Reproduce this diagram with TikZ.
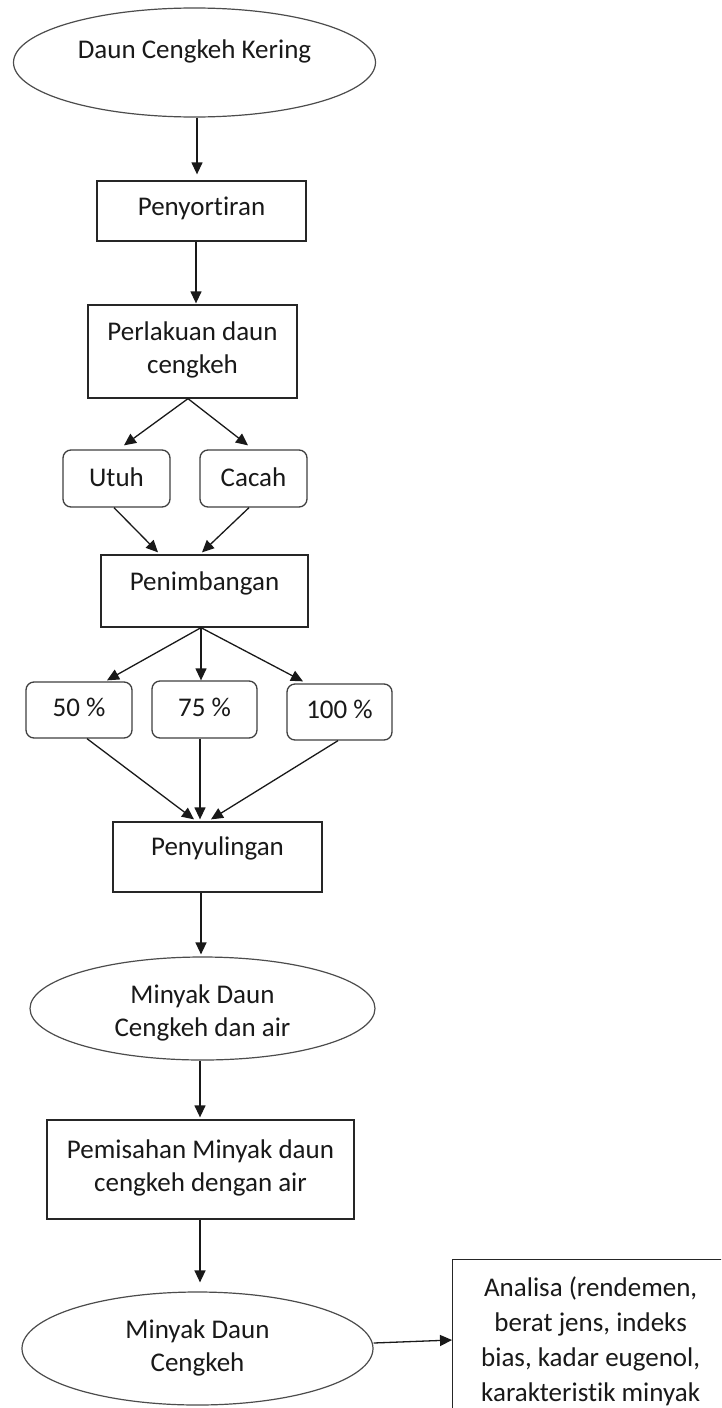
\documentclass[tikz,border=0pt]{standalone}
\usepackage{fontspec}
\setmainfont{Carlito}[RawFeature={-liga;-clig;-calt;-dlig}]
\usetikzlibrary{shapes.geometric,arrows.meta}
\newcommand\tx[2]{\raisebox{#1}[0pt][0pt]{\begin{tabular}{@{}c@{}}#2\end{tabular}}}
\tikzset{
  base/.style={font=\fontsize{27}{33}\selectfont, inner sep=0pt, text=black!90},
  procbox/.style={base, rectangle, draw=black!85, line width=1.3pt, fill=white},
  optbox/.style={base, rectangle, rounded corners=8pt, draw=black!75, line width=1.3pt, fill=white},
  oval/.style={base, ellipse, draw=black!70, line width=1.2pt, fill=white},
  arr/.style={-{Triangle[length=12pt,width=11pt]}, line width=1.3pt, draw=black!90},
}
\begin{document}
\begin{tikzpicture}[x=1pt,y=-1pt]
\useasboundingbox (0,0) rectangle (721,1408);
\clip (0,0) rectangle (721,1408);
\fill[white] (0,0) rectangle (721,1408);

\node[oval, minimum width=362pt, minimum height=109pt] (e1) at (194.5,62.5) {\tx{4pt}{Daun Cengkeh Kering}};
\node[procbox, minimum width=209pt, minimum height=60pt] (sort) at (201.5,211) {\tx{-4.5pt}{Penyortiran}};
\node[procbox, minimum width=209pt, minimum height=93pt] (perl) at (192.5,351.5) {\tx{-5.5pt}{Perlakuan daun\\cengkeh}};
\node[optbox, minimum width=107pt, minimum height=57pt] (utuh) at (116.5,478.5) {\tx{-7.5pt}{Utuh}};
\node[optbox, minimum width=107pt, minimum height=57pt] (cacah) at (253.5,478.5) {\tx{-7.5pt}{Cacah}};
\node[procbox, minimum width=207pt, minimum height=72pt] (penim) at (204.5,591) {\tx{0.5pt}{Penimbangan}};
\node[optbox, minimum width=106pt, minimum height=56pt] (p50) at (79,710) {\tx{-6.5pt}{50 \%}};
\node[optbox, minimum width=105pt, minimum height=57pt] (p75) at (204.5,709.5) {\tx{-7pt}{75 \%}};
\node[optbox, minimum width=105pt, minimum height=56pt] (p100) at (339.5,712) {\tx{-6.5pt}{100 \%}};
\node[procbox, minimum width=209pt, minimum height=70pt] (penyul) at (217.5,857) {\tx{1.5pt}{Penyulingan}};
\node[oval, minimum width=345pt, minimum height=103pt] (e2) at (202.5,1008.5) {\tx{-11.5pt}{Minyak Daun\\Cengkeh dan air}};
\node[procbox, minimum width=307pt, minimum height=99pt] (pemis) at (200.5,1169.5) {\tx{-5pt}{Pemisahan Minyak daun\\cengkeh dengan air}};
\node[oval, minimum width=351pt, minimum height=113pt] (e3) at (197.5,1348.5) {\tx{-6.5pt}{Minyak Daun\\Cengkeh}};
\node[procbox, font=\fontsize{27}{35}\selectfont, anchor=north west, minimum width=276pt, inner xsep=0pt, inner ysep=12pt] (ana) at (452,1259)
  {\begin{tabular}[t]{@{}c@{}}Analisa (rendemen,\\berat jens, indeks\\bias, kadar eugenol,\\karakteristik minyak\rule[-90pt]{0pt}{0pt}\end{tabular}};

\draw[arr] ([xshift=2.5pt]e1.south) -- ([xshift=-4.5pt,yshift=6pt]sort.north);
\draw[arr] ([xshift=-5.5pt]sort.south) -- ([xshift=3.5pt,yshift=1pt]perl.north);
\draw[arr] ([xshift=-4.5pt]perl.south) -- ([xshift=7.5pt,yshift=4pt]utuh.north);
\draw[arr] ([xshift=-4.5pt]perl.south) -- ([xshift=-5.5pt,yshift=4pt]cacah.north);
\draw[arr] ([xshift=-2.5pt]utuh.south) -- ([xshift=-46.5pt,yshift=2pt]penim.north);
\draw[arr] ([xshift=-4.5pt]cacah.south) -- ([xshift=-2.5pt,yshift=2pt]penim.north);
\draw[arr] ([xshift=-3.5pt]penim.south) -- ([xshift=28pt,yshift=1pt]p50.north);
\draw[arr] ([xshift=-3.5pt]penim.south) -- ([xshift=-3.5pt]p75.north);
\draw[arr] ([xshift=-3.5pt]penim.south) -- ([xshift=-36.5pt,yshift=2pt]p100.north);
\draw[arr] ([xshift=8pt]p50.south) -- ([xshift=-23.5pt,yshift=2pt]penyul.north);
\draw[arr] ([xshift=-4.5pt]p75.south) -- ([xshift=-17.5pt,yshift=2pt]penyul.north);
\draw[arr] ([xshift=-1.5pt]p100.south) -- ([xshift=-6.5pt,yshift=2pt]penyul.north);
\draw[arr] ([xshift=-16.5pt]penyul.south) -- ([xshift=-1.5pt,yshift=2pt]e2.north);
\draw[arr] ([xshift=-2.5pt]e2.south) -- ([xshift=-0.5pt,yshift=2pt]pemis.north);
\draw[arr] ([xshift=-0.5pt]pemis.south) -- ([xshift=2.5pt,yshift=9pt]e3.north);
\draw[arr] ([yshift=5.5pt]e3.east) -- ([yshift=-81pt]ana.north west);
\end{tikzpicture}
\end{document}
